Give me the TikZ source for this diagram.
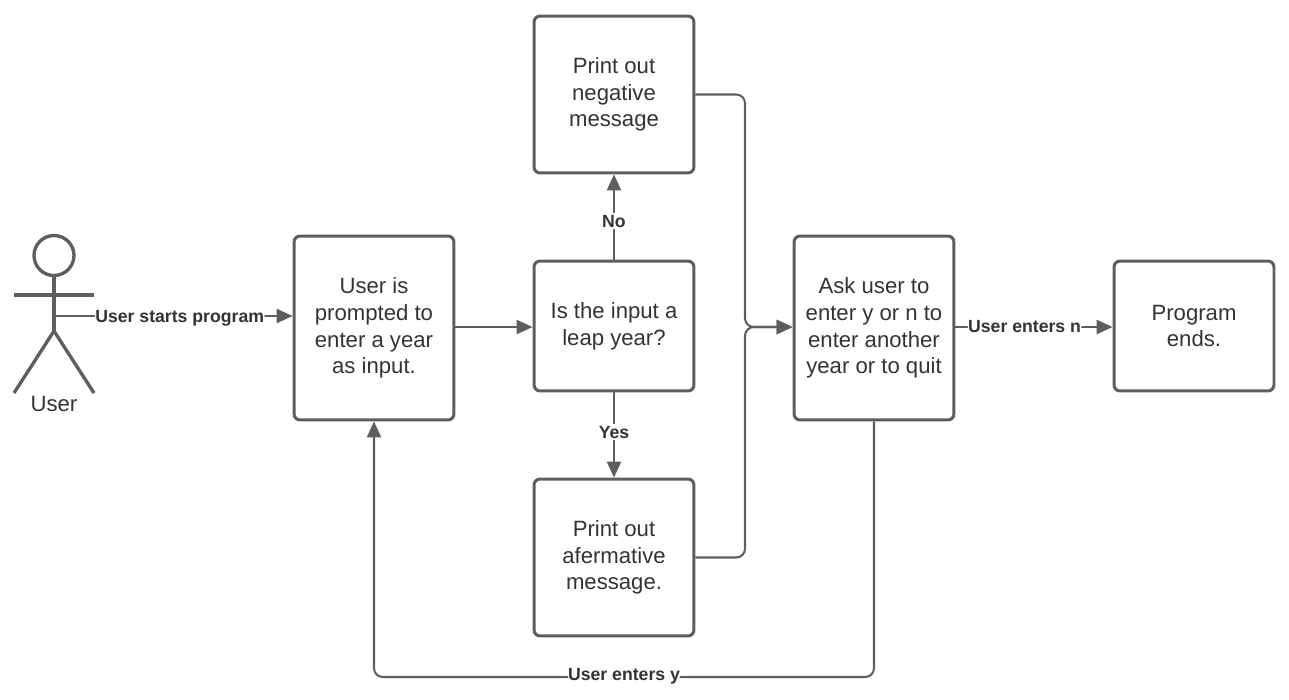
\documentclass[tikz,border=0pt]{standalone}
\usepackage{fontspec}
\setmainfont{Liberation Sans}
\usetikzlibrary{arrows.meta}
\definecolor{linegrey}{HTML}{5E5E5E}
\definecolor{textgrey}{HTML}{333333}
\tikzset{
	stepbox/.style={draw=linegrey, line width=1.7pt, rounded corners=3.5pt, minimum width=3.2cm, align=center, text=textgrey, font=\fontsize{12.6}{15.2}\selectfont},
	tallbox/.style={stepbox, minimum height=3.68cm},
	midbox/.style={stepbox, minimum height=2.6cm},
	msgbox/.style={stepbox, minimum height=3.14cm},
	flow/.style={draw=linegrey, line width=1.15pt, rounded corners=5pt, -{Triangle[length=9pt,width=8pt]}},
	flowlabel/.style={fill=white, inner xsep=0.3pt, inner ysep=1pt, text height=7.2pt, text depth=0pt, text=textgrey, font=\bfseries\fontsize{10.05}{12}\selectfont},
	actorline/.style={draw=linegrey, line width=1.9pt}
}
\begin{document}
\begin{tikzpicture}[x=0.02cm, y=-0.02cm]
	%%%%% START %%%%%
	\useasboundingbox (0, 0) rectangle (1289, 700);
	
	\draw[actorline] (54, 255.5) circle (20);
	\draw[actorline] (54, 275.5) -- (54, 331);
	\draw[actorline] (14, 295) -- (94, 295);
	\draw[actorline] (14, 393) -- (54, 331) -- (94, 393);
	\node[text=textgrey, font=\fontsize{12.6}{15}\selectfont] (username) at (54, 404) {User};
	\coordinate (actorhip) at (54, 316);
	
	\node[tallbox] (prompt) at (374, 328) {User is\\prompted to\\enter a year\\as input.};
	\node[midbox] (leap) at (614, 326) {Is the input a\\leap year?};
	\node[msgbox] (negative) at (614, 94.5) {Print out\\negative\\message};
	\node[msgbox] (aferm) at (614, 557.5) {Print out\\afermative\\message.};
	\node[tallbox] (ask) at (874, 328) {Ask user to\\enter y or n to\\enter another\\year or to quit};
	\node[midbox] (ends) at (1194, 326) {Program\\ends.};
	
	\draw[flow] (actorhip) -- node[flowlabel, pos=0.527] {User starts program} (actorhip -| prompt.west);
	\draw[flow] (prompt.east |- 0, 327) -- (leap.west |- 0, 327);
	\draw[flow] (leap.north) -- node[flowlabel, pos=0.453] {No} (negative.south);
	\draw[flow] (leap.south) -- node[flowlabel, pos=0.465] {Yes} (aferm.north);
	\draw[flow] (negative.east) -- (745, 94.5) -- (745, 327) -- (ask.west |- 0, 327);
	\draw[flow] (aferm.east) -- (745, 557.5) -- (745, 327) -- (ask.west |- 0, 327);
	\draw[flow] (ask.east |- 0, 327) -- node[flowlabel, pos=0.44, yshift=0.5pt] {User enters n} (ends.west |- 0, 327);
	\draw[flow] (ask.south) -- (874, 677) -- node[flowlabel, pos=0.5, yshift=1.5pt] {User enters y} (374, 677) -- (prompt.south);
	%%%%% END %%%%%
\end{tikzpicture}
\end{document}
